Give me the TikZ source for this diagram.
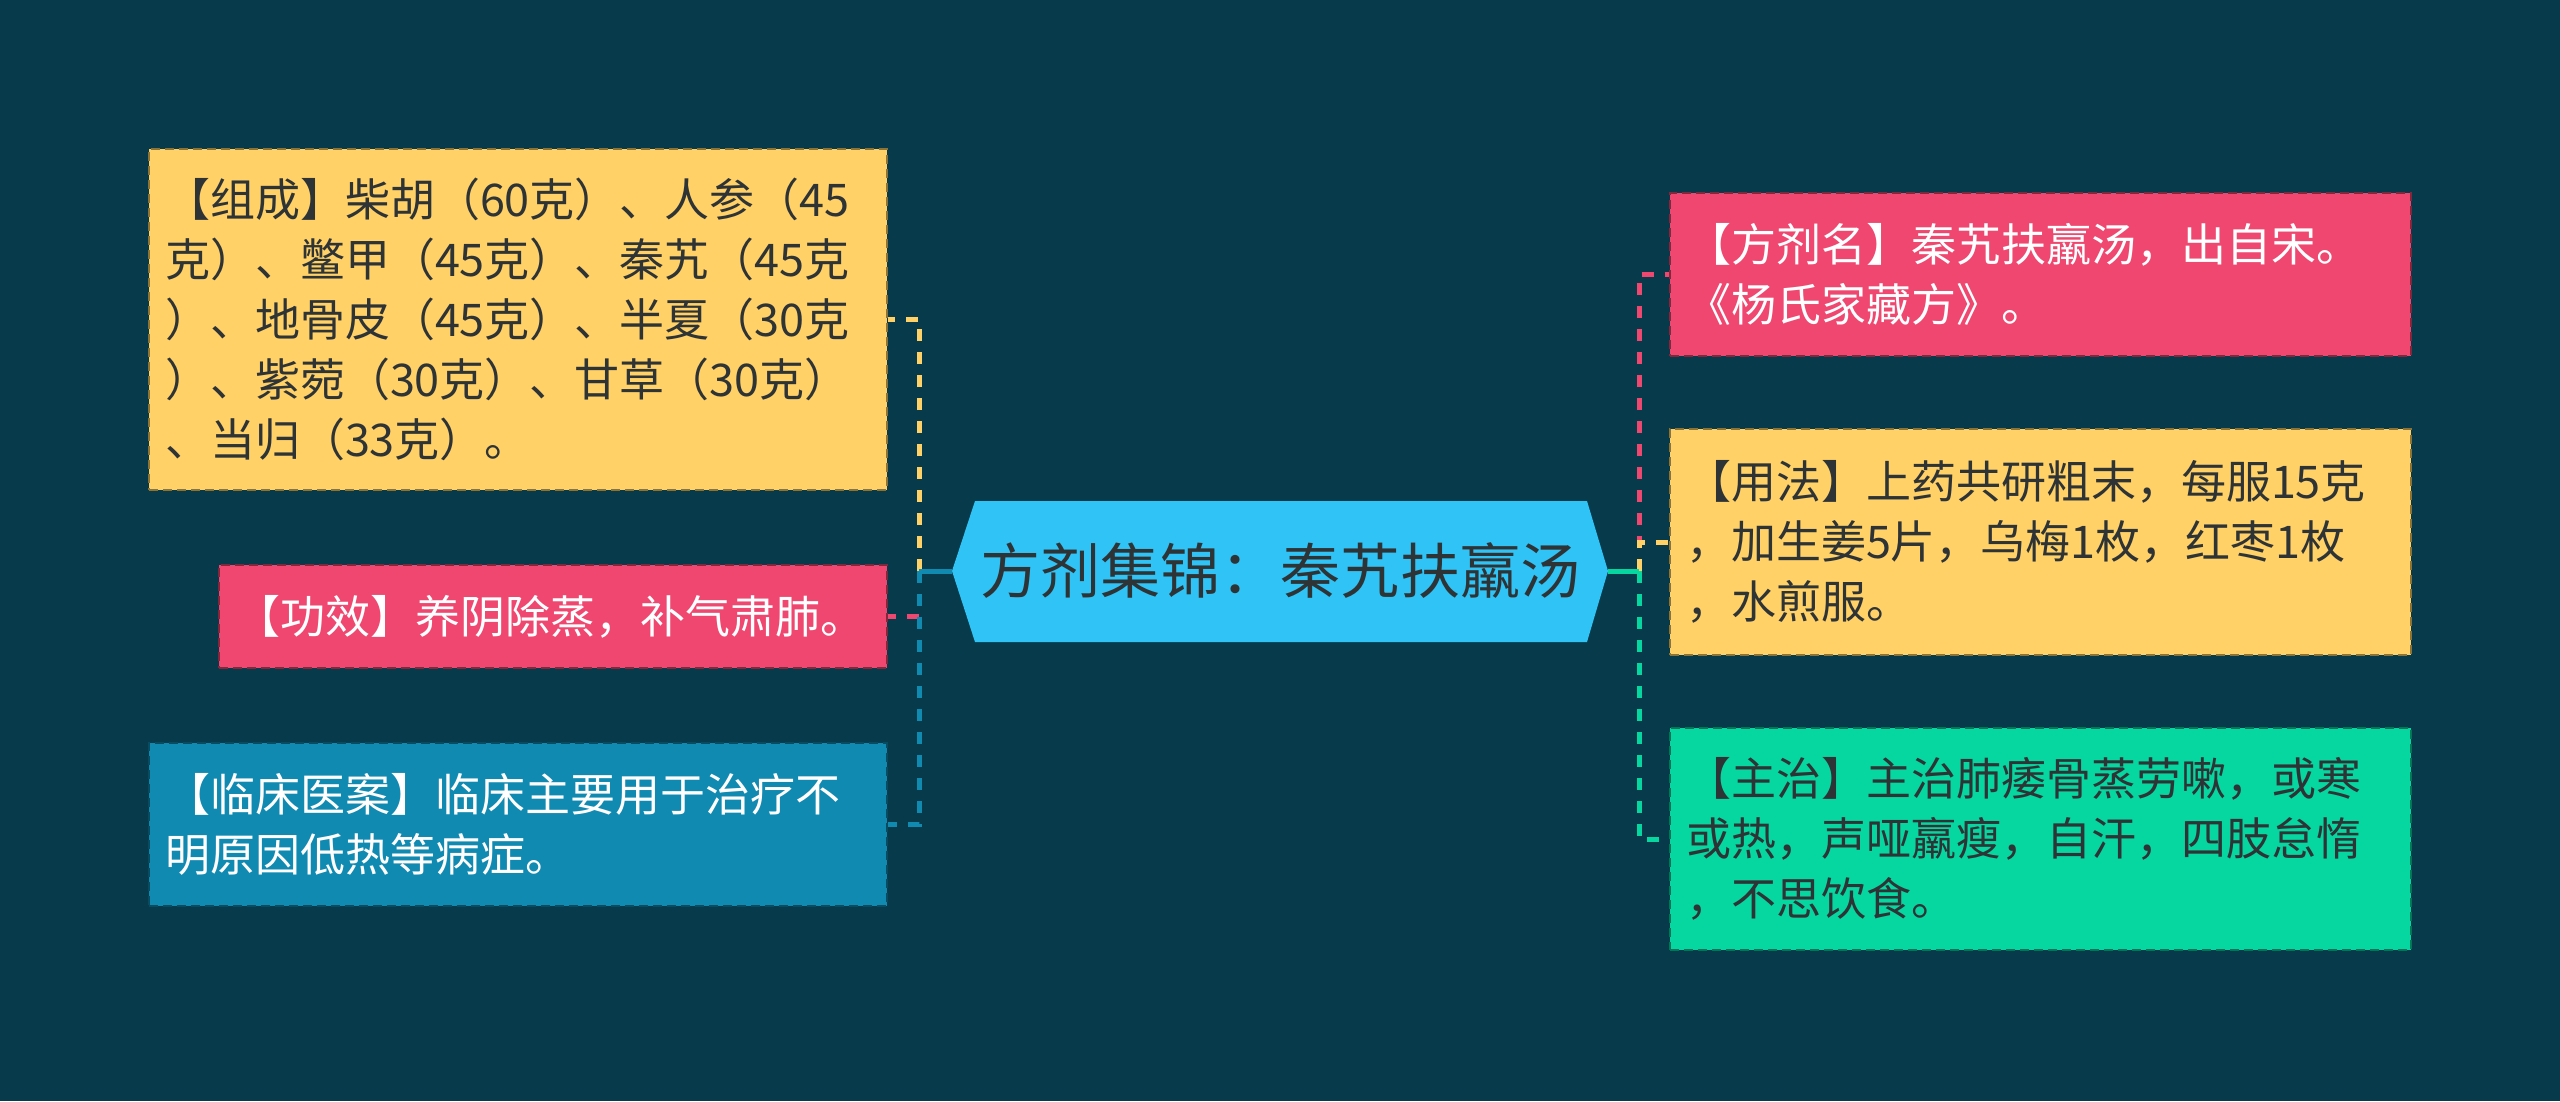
\documentclass[tikz,border=0pt]{standalone}
\usepackage{fontspec}
\newfontfamily\cjk{Noto Sans CJK SC}
\definecolor{bg}{HTML}{073B4C}
\definecolor{cyel}{HTML}{FFD166}
\definecolor{cpink}{HTML}{EF476F}
\definecolor{cblue}{HTML}{118AB2}
\definecolor{cgreen}{HTML}{06D6A0}
\definecolor{ccyan}{HTML}{30C3F5}
\definecolor{ctext}{HTML}{2E3336}
\begin{document}
\begin{tikzpicture}[x=1pt,y=-1pt,
  box/.style={rectangle, inner xsep=16pt, inner ysep=0pt, align=left,
    line width=2.5pt, dash pattern=on 9pt off 5pt,
    font=\cjk\fontsize{45pt}{60pt}\selectfont},
  conn/.style={line width=5pt, dash pattern=on 12pt off 11pt},
  stub/.style={line width=5pt},
]
\fill[bg] (0,0) rectangle (2560,1101);
\useasboundingbox (0,0) rectangle (2560,1101);

% center hexagon
\fill[ccyan] (952,571) -- (975,501) -- (1587,501) -- (1608,571) -- (1587,642) -- (975,642) -- cycle;
\node[minimum width=656pt, minimum height=141pt, inner sep=0pt, text=ctext,
  font=\cjk\fontsize{60pt}{72pt}\selectfont] (hex) at (1280,571) {方剂集锦：秦艽扶羸汤};

% left boxes
\node[box, fill=cyel, draw=cyel!55!black, text=ctext, minimum width=738pt,
  minimum height=341pt, text width=706pt] (zc) at (518,319.5)
  {【组成】柴胡（60克）、人参（45\\克）、鳖甲（45克）、秦艽（45克\\）、地骨皮（45克）、半夏（30克\\）、紫菀（30克）、甘草（30克）\\、当归（33克）。};
\node[box, fill=cpink, draw=cpink!55!black, text=white, minimum width=668pt,
  minimum height=103pt, text width=636pt] (gx) at (553,616.5)
  {【功效】养阴除蒸，补气肃肺。};
\node[box, fill=cblue, draw=cblue!55!black, text=white, minimum width=738pt,
  minimum height=163pt, text width=706pt] (lc) at (518,824.5)
  {【临床医案】临床主要用于治疗不\\明原因低热等病症。};

% right boxes
\node[box, fill=cpink, draw=cpink!55!black, text=white, minimum width=741pt,
  minimum height=163pt, text width=709pt] (fm) at (2040.5,274.5)
  {【方剂名】秦艽扶羸汤，出自宋。\\《杨氏家藏方》。};
\node[box, fill=cyel, draw=cyel!55!black, text=ctext, minimum width=741pt,
  minimum height=226pt, text width=709pt] (yf) at (2040.5,542)
  {【用法】上药共研粗末，每服15克\\，加生姜5片，乌梅1枚，红枣1枚\\，水煎服。};
\node[box, fill=cgreen, draw=cgreen!55!black, text=ctext, minimum width=741pt,
  minimum height=222pt, text width=709pt] (zz) at (2040.5,839)
  {【主治】主治肺痿骨蒸劳嗽，或寒\\或热，声哑羸瘦，自汗，四肢怠惰\\，不思饮食。};

% connectors
\coordinate (tl) at (919,571);
\coordinate (tr) at (1639,571);
\draw[conn, cyel] (tl) |- (zc.east);
\draw[conn, cpink] (tl) |- (gx.east);
\draw[conn, cblue] (tl) |- (lc.east);
\draw[stub, cblue] (hex.west) -- (tl);

\draw[conn, cpink] (tr) |- (fm.west);
\draw[conn, cyel] (tr) |- (yf.west);
\draw[conn, cgreen] (tr) |- (zz.west);
\draw[stub, cgreen] (hex.east) -- (tr);
\end{tikzpicture}
\end{document}
